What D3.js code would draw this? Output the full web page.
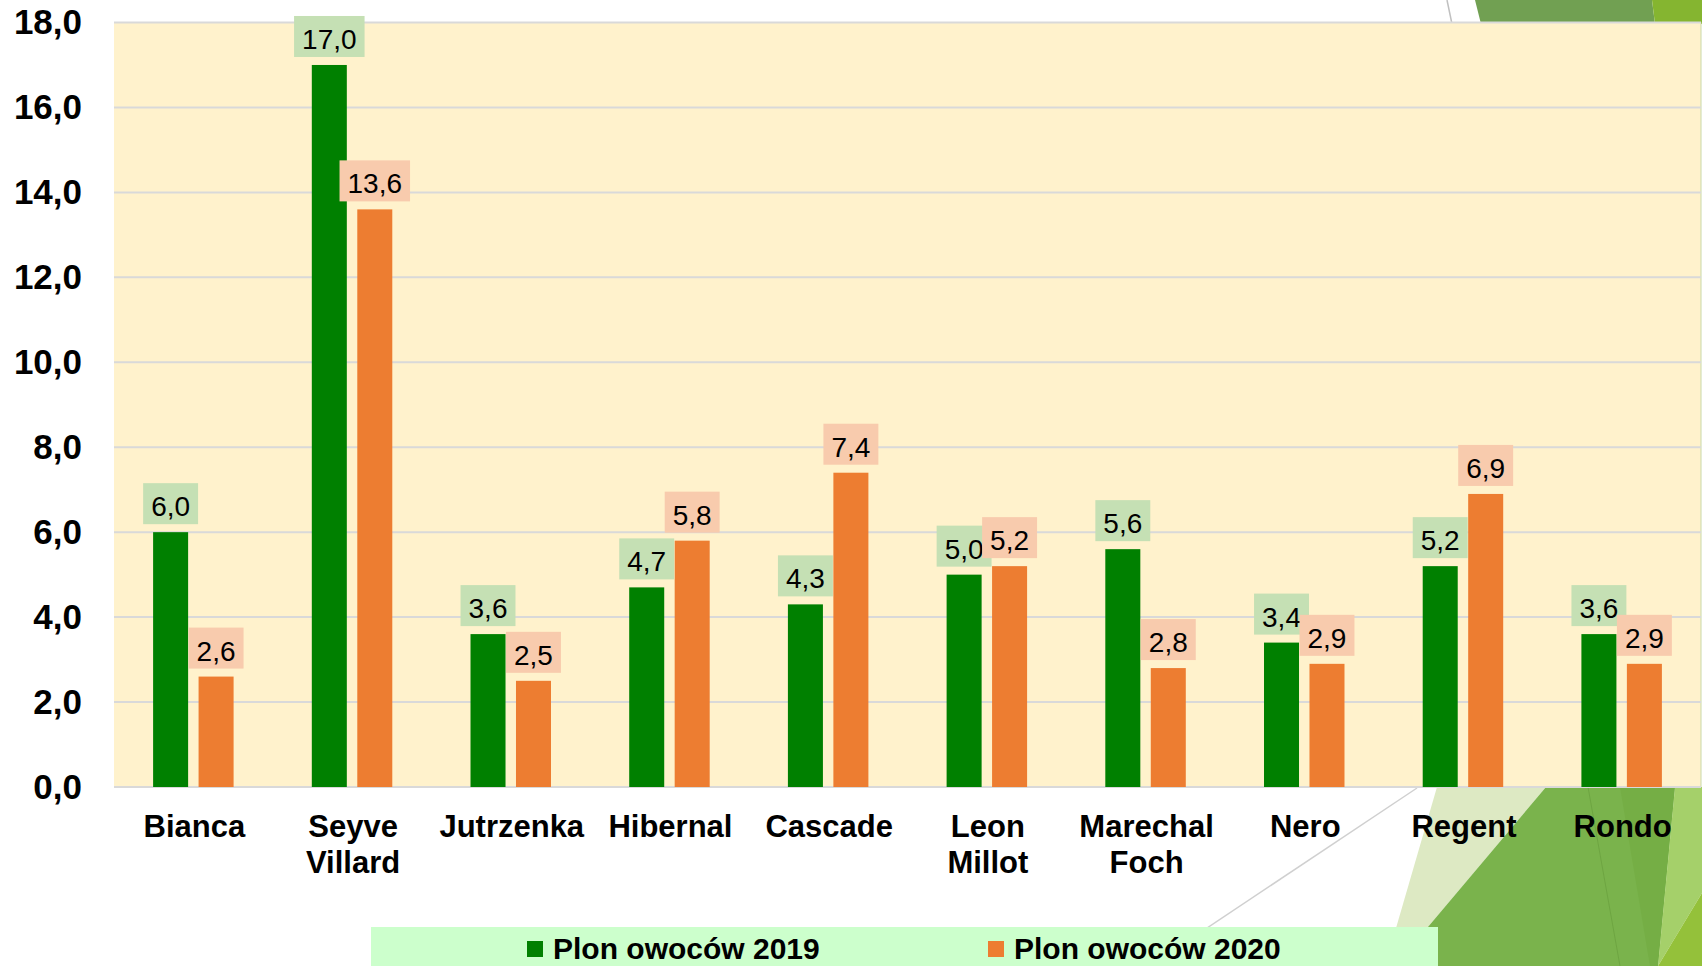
<!DOCTYPE html>
<html>
<head>
<meta charset="utf-8">
<script src="https://cdn.jsdelivr.net/npm/d3@7"></script>
<style>
  html, body { margin: 0; padding: 0; background: #ffffff; }
  svg { display: block; font-family: Arial, "Liberation Sans", sans-serif; }
</style>
</head>
<body>
<svg width="1702" height="966"></svg>
<script>
// chart data
var categories = ["Bianca", "Seyve Villard", "Jutrzenka", "Hibernal", "Cascade",
                  "Leon Millot", "Marechal Foch", "Nero", "Regent", "Rondo"];
var plon2019 = [6.0, 17.0, 3.6, 4.7, 4.3, 5.0, 5.6, 3.4, 5.2, 3.6];
var plon2020 = [2.6, 13.6, 2.5, 5.8, 7.4, 5.2, 2.8, 2.9, 6.9, 2.9];
var seriesNames = ["Plon owoców 2019", "Plon owoców 2020"];
var yTicks = [0, 2, 4, 6, 8, 10, 12, 14, 16, 18];

var svg = d3.select("svg"),
    width = +svg.attr("width"),
    height = +svg.attr("height");

var plot = { left: 114, right: 1701, top: 22.5, bottom: 787 };

var colors = ["#008000", "#ed7d31"];
var labelFills = ["#c5e0b4", "#f8cbad"];

var fmt = function(v) { return d3.format(".1f")(v).replace(".", ","); };

//
// background decoration (slide theme shapes)
//
var decor = svg.append("g").attr("class", "decor");

function poly(points, fill) {
    decor.append("polygon")
        .attr("points", points.map(function(p) { return p.join(","); }).join(" "))
        .attr("fill", fill);
}

poly([[1475, 0], [1652, 0], [1655, 24], [1481, 24]], "#71a052");
poly([[1652, 0], [1702, 0], [1702, 24], [1655, 24]], "#85b530");
poly([[1437, 787], [1546, 787], [1395, 966], [1385, 966]], "#dde9c3");
poly([[1546, 787], [1675, 787], [1658, 966], [1395, 966]], "#7ab34c");
poly([[1620, 787], [1675, 787], [1658, 966], [1650, 966]], "#75ae45");
poly([[1675, 787], [1702, 787], [1702, 893], [1658, 966]], "#a5d06a");
poly([[1702, 893], [1702, 966], [1658, 966]], "#94c13a");

decor.append("line")
    .attr("x1", 1447).attr("y1", 0).attr("x2", 1452).attr("y2", 24)
    .attr("stroke", "#c0c0c0").attr("stroke-width", 1.5);
decor.append("line")
    .attr("x1", 1417).attr("y1", 788).attr("x2", 1150).attr("y2", 966)
    .attr("stroke", "#d0d0d0").attr("stroke-width", 1.5);
decor.append("line")
    .attr("x1", 1588).attr("y1", 787).attr("x2", 1620).attr("y2", 966)
    .attr("stroke", "#6ea542").attr("stroke-width", 1);

//
// scales
//
var x0 = d3.scaleBand()
    .domain(categories)
    .range([plot.left, plot.right])
    .padding(0);

var x1 = d3.scaleBand()
    .domain([0, 1])
    .range([0, x0.bandwidth()])
    .paddingInner(0.23)
    .paddingOuter(0.86);

var y = d3.scaleLinear()
    .domain([0, 18])
    .range([plot.bottom, plot.top]);

// plot area background
svg.append("rect")
    .attr("x", plot.left)
    .attr("y", plot.top)
    .attr("width", plot.right - plot.left)
    .attr("height", plot.bottom - plot.top)
    .attr("fill", "#fff2cc");

svg.append("line")
    .attr("x1", plot.right).attr("x2", plot.right)
    .attr("y1", plot.top).attr("y2", plot.bottom)
    .attr("stroke", "#c9d9a8").attr("stroke-width", 1);

// gridlines
svg.append("g")
    .attr("class", "grid")
    .selectAll("line")
    .data(yTicks)
    .enter().append("line")
    .attr("x1", plot.left)
    .attr("x2", plot.right)
    .attr("y1", function(d) { return y(d); })
    .attr("y2", function(d) { return y(d); })
    .attr("stroke", "#d9d9d9")
    .attr("stroke-width", 2);

// y axis labels
var yAxis = d3.axisLeft(y)
    .tickValues(yTicks)
    .tickFormat(fmt)
    .tickSize(0)
    .tickPadding(32);

var yg = svg.append("g")
    .attr("transform", "translate(" + plot.left + ",0)")
    .call(yAxis);
yg.select(".domain").remove();
yg.selectAll("text")
    .attr("font-family", "Arial, 'Liberation Sans', sans-serif")
    .attr("font-size", 35)
    .attr("font-weight", "bold")
    .attr("fill", "#000");

//
// bars
//
var series = [plon2019, plon2020];
var rows = [];
series.forEach(function(values, s) {
    values.forEach(function(v, i) {
        rows.push({ cat: categories[i], s: s, value: v });
    });
});

svg.append("g")
    .attr("class", "bars")
    .selectAll("rect")
    .data(rows)
    .enter().append("rect")
    .attr("x", function(d) { return x0(d.cat) + x1(d.s); })
    .attr("y", function(d) { return y(d.value); })
    .attr("width", x1.bandwidth())
    .attr("height", function(d) { return y(0) - y(d.value); })
    .attr("fill", function(d) { return colors[d.s]; });

// value labels with coloured boxes
var labels = svg.append("g")
    .attr("class", "labels")
    .selectAll("g")
    .data(rows)
    .enter().append("g")
    .attr("transform", function(d) {
        return "translate(" + (x0(d.cat) + x1(d.s) + x1.bandwidth() / 2) + "," + y(d.value) + ")";
    });

labels.append("rect")
    .attr("fill", function(d) { return labelFills[d.s]; });

labels.append("text")
    .attr("text-anchor", "middle")
    .attr("y", -16)
    .attr("font-size", 28)
    .attr("fill", "#000")
    .text(function(d) { return fmt(d.value); });

labels.each(function() {
    var g = d3.select(this);
    var w = g.select("text").node().getComputedTextLength() + 16;
    g.select("rect")
        .attr("x", -w / 2)
        .attr("y", -49)
        .attr("width", w)
        .attr("height", 41);
});

// category labels (two lines where needed)
var xl = svg.append("g")
    .attr("class", "xlabels")
    .selectAll("text")
    .data(categories)
    .enter().append("text")
    .attr("text-anchor", "middle")
    .attr("font-size", 31)
    .attr("font-weight", "bold")
    .attr("fill", "#000")
    .attr("transform", function(d) { return "translate(" + (x0(d) + x0.bandwidth() / 2 + 1) + ",837)"; });

xl.selectAll("tspan")
    .data(function(d) { return d.split(" "); })
    .enter().append("tspan")
    .attr("x", 0)
    .attr("y", function(d, i) { return i * 36; })
    .text(function(d) { return d; });

//
// legend
//
var legend = svg.append("g").attr("class", "legend");

legend.append("rect")
    .attr("x", 371)
    .attr("y", 927)
    .attr("width", 1438 - 371)
    .attr("height", 40)
    .attr("fill", "#ccffcc");

var legendX = [527, 988];
var items = legend.selectAll("g.item")
    .data(seriesNames)
    .enter().append("g")
    .attr("class", "item")
    .attr("transform", function(d, i) { return "translate(" + legendX[i] + ",0)"; });

items.append("rect")
    .attr("x", 0)
    .attr("y", 941)
    .attr("width", 16)
    .attr("height", 16)
    .attr("fill", function(d, i) { return colors[i]; });

items.append("text")
    .attr("x", 26)
    .attr("y", 959)
    .attr("font-size", 30)
    .attr("font-weight", "bold")
    .attr("fill", "#000")
    .text(function(d) { return d; });
</script>
</body>
</html>
